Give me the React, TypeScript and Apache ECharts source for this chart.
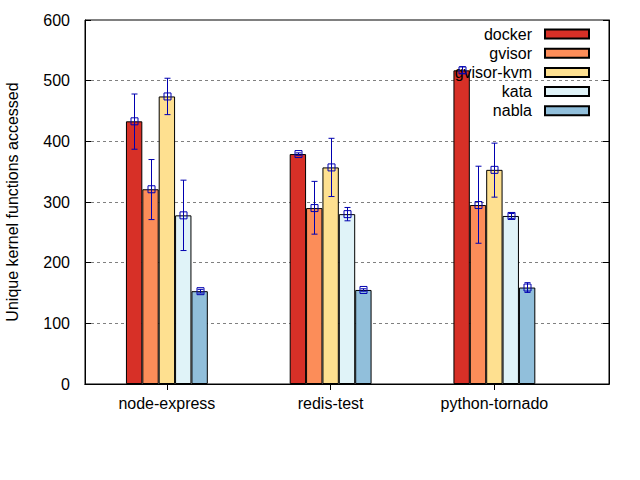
import React, { useEffect, useRef } from "react";
import * as echarts from "echarts";

const categories = ["node-express", "redis-test", "python-tornado"];
const systems = ["docker", "gvisor", "gvisor-kvm", "kata", "nabla"];
const colors = ["#d73027", "#fc8d59", "#fee090", "#e0f3f8", "#91bfdb"];

const dockerMean = [433, 379, 517];
const dockerLow = [387, 377, 512];
const dockerHigh = [478, 381, 523];

const gvisorMean = [321, 290, 295];
const gvisorLow = [271, 247, 232];
const gvisorHigh = [370, 334, 359];

const gvisorKvmMean = [474, 357, 353];
const gvisorKvmLow = [444, 309, 308];
const gvisorKvmHigh = [504, 405, 397];

const kataMean = [278, 280, 277];
const kataLow = [220, 269, 273];
const kataHigh = [336, 291, 281];

const nablaMean = [153, 155, 159];
const nablaLow = [150, 153, 151];
const nablaHigh = [156, 157, 167];

const yTicks = [0, 100, 200, 300, 400, 500, 600];

const means = [dockerMean, gvisorMean, gvisorKvmMean, kataMean, nablaMean];
const lows = [dockerLow, gvisorLow, gvisorKvmLow, kataLow, nablaLow];
const highs = [dockerHigh, gvisorHigh, gvisorKvmHigh, kataHigh, nablaHigh];

// x range spans -0.5..2.7 in gnuplot units; split into 0.2-wide slots
const SLOTS = 16;
const slotOf = (i: number) => 5 * i + 2;
const slotSet = new Set(categories.map((_, i) => slotOf(i)));
const axisData = Array.from({ length: SLOTS }, (_, k) => {
  const ci = categories.findIndex((_, i) => slotOf(i) === k);
  return ci >= 0 ? categories[ci] : "s" + k;
});

const FONT = "Liberation Sans, Arial, sans-serif";
const ERR = "#0000b0";

export default function App() {
  const ref = useRef<HTMLDivElement>(null);
  useEffect(() => {
    document.body.style.margin = "0";
    const chart = echarts.init(ref.current!, null, { renderer: "svg" });

    const barSeries = systems.map((name, si) => {
      const data: any[] = Array.from({ length: SLOTS }, () => "-");
      categories.forEach((_, ci) => {
        data[slotOf(ci)] = means[si][ci];
      });
      return {
        name,
        type: "bar",
        data,
        barWidth: "50%",
        barGap: "0%",
        itemStyle: { color: colors[si], borderColor: "#000", borderWidth: 1 },
        emphasis: { disabled: true },
      };
    });

    const errData: number[][] = [];
    systems.forEach((_, si) => {
      categories.forEach((_, ci) => {
        errData.push([slotOf(ci), si, means[si][ci], lows[si][ci], highs[si][ci]]);
      });
    });

    const errSeries = {
      type: "custom",
      name: "errors",
      data: errData,
      encode: { x: 0, y: 2 },
      clip: false,
      z: 5,
      renderItem: (params: any, api: any) => {
        const slot = api.value(0);
        const si = api.value(1);
        const band = api.size([1, 0])[0];
        const off = (si - 2) * (band / 2);
        const pm = api.coord([slot, api.value(2)]);
        const pl = api.coord([slot, api.value(3)]);
        const ph = api.coord([slot, api.value(4)]);
        const x = Math.round(pm[0] + off) + 0.5;
        const cap = 3;
        const sq = 3.5;
        const style = { stroke: ERR, lineWidth: 1, fill: null };
        return {
          type: "group",
          children: [
            { type: "line", shape: { x1: x, y1: pl[1], x2: x, y2: ph[1] }, style },
            { type: "line", shape: { x1: x - cap, y1: pl[1], x2: x + cap, y2: pl[1] }, style },
            { type: "line", shape: { x1: x - cap, y1: ph[1], x2: x + cap, y2: ph[1] }, style },
            {
              type: "rect",
              shape: { x: x - sq, y: pm[1] - sq, width: sq * 2, height: sq * 2 },
              style: { stroke: ERR, lineWidth: 1, fill: "none" },
            },
          ],
        };
      },
    };

    const tickInterval = (index: number) => slotSet.has(index);

    chart.setOption({
      animation: false,
      textStyle: { fontFamily: FONT },
      grid: {
        left: 85,
        right: 31,
        top: 20,
        bottom: 96,
        outerBoundsMode: "none",
        containLabel: false,
        show: true,
        borderColor: "#000",
        borderWidth: 1,
        backgroundColor: "transparent",
      },
      legend: {
        data: systems,
        orient: "vertical",
        align: "right",
        right: 50,
        top: 26,
        padding: 0,
        itemWidth: 44,
        itemHeight: 9,
        itemGap: 3.2,
        icon: "rect",
        selectedMode: false,
        textStyle: {
          fontFamily: FONT,
          fontSize: 16,
          color: "#000",
          lineHeight: 16,
          padding: [0, 8, 0, 0],
        },
      },
      xAxis: [
        {
          type: "category",
          data: axisData,
          position: "bottom",
          axisLine: { show: true, lineStyle: { color: "#000" } },
          axisTick: {
            show: true,
            inside: true,
            length: 6,
            alignWithLabel: true,
            interval: tickInterval,
            lineStyle: { color: "#000" },
          },
          axisLabel: {
            interval: tickInterval,
            formatter: (v: string) => (categories.includes(v) ? v : ""),
            fontFamily: FONT,
            fontSize: 16,
            color: "#000",
            margin: 11,
          },
          splitLine: { show: false },
        },
        {
          type: "category",
          data: axisData,
          position: "top",
          axisLine: { show: true, lineStyle: { color: "#000" } },
          axisTick: {
            show: true,
            inside: true,
            length: 6,
            alignWithLabel: true,
            interval: tickInterval,
            lineStyle: { color: "#000" },
          },
          axisLabel: { show: false },
          splitLine: { show: false },
        },
      ],
      yAxis: [
        {
          type: "value",
          min: yTicks[0],
          max: yTicks[yTicks.length - 1],
          interval: yTicks[1] - yTicks[0],
          name: "Unique kernel functions accessed",
          nameLocation: "middle",
          nameRotate: 90,
          nameGap: 65,
          nameTextStyle: { fontFamily: FONT, fontSize: 16, color: "#000" },
          axisLine: { show: true, lineStyle: { color: "#000" } },
          axisTick: { show: true, inside: true, length: 6, lineStyle: { color: "#000" } },
          axisLabel: { fontFamily: FONT, fontSize: 16, color: "#000", margin: 15 },
          splitLine: {
            show: true,
            lineStyle: { color: "#808080", type: [3, 3], width: 1 },
          },
        },
        {
          type: "value",
          position: "right",
          min: yTicks[0],
          max: yTicks[yTicks.length - 1],
          interval: yTicks[1] - yTicks[0],
          axisLine: { show: true, lineStyle: { color: "#000" } },
          axisTick: { show: true, inside: true, length: 6, lineStyle: { color: "#000" } },
          axisLabel: { show: false },
          splitLine: { show: false },
        },
      ],
      series: [...barSeries, errSeries],
    });
    return () => chart.dispose();
  }, []);
  return <div ref={ref} style={{ width: 640, height: 480 }} />;
}
